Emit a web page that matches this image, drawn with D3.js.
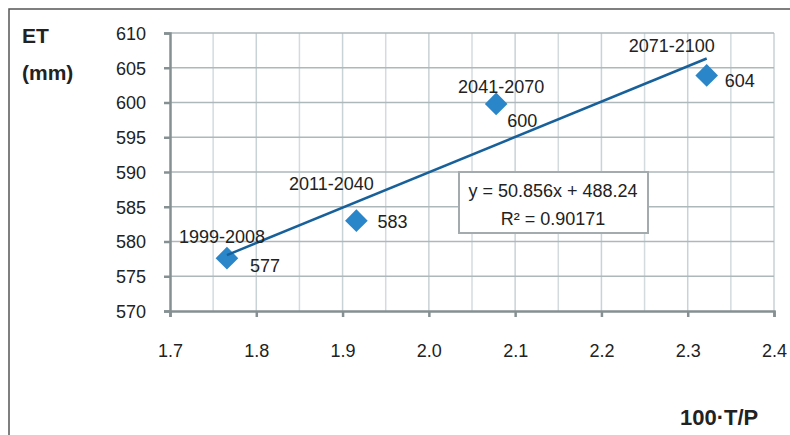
<!DOCTYPE html>
<html>
<head>
<meta charset="utf-8">
<script src="https://cdn.jsdelivr.net/npm/d3@7"></script>
<style>
  body { margin: 0; background: #fff; }
  text { font-family: "Liberation Sans", Arial, sans-serif; fill: #222; }
</style>
</head>
<body>
<div id="view"></div>
<script>
var width = 790, height = 435;

// データ
var periods = ["1999-2008", "2011-2040", "2041-2070", "2071-2100"];
var tp = [1.766, 1.916, 2.078, 2.322];      // 100·T/P
var et = [577.6, 583.0, 599.8, 603.9];      // ET (mm)
var etLabels = ["577", "583", "600", "604"];
var xTicks = [1.7, 1.8, 1.9, 2.0, 2.1, 2.2, 2.3, 2.4];
var yTicks = [570, 575, 580, 585, 590, 595, 600, 605, 610];
var slope = 50.856, intercept = 488.24, r2 = 0.90171;

var svg = d3.select("#view").append("svg")
  .attr("width", width)
  .attr("height", height);

// 外枠
svg.append("rect")
  .attr("x", 9).attr("y", 9)
  .attr("width", 800).attr("height", 440)
  .style("fill", "none").style("stroke", "#555").style("stroke-width", 1.5);

var x = d3.scaleLinear().domain([1.7, 2.4]).range([170, 774]);
var y = d3.scaleLinear().domain([570, 610]).range([311, 33]);

// 縦グリッド (0.05刻み)
var xGrid = d3.range(1.75, 2.40, 0.1);
svg.selectAll(".vminor").data(xGrid).enter().append("line")
  .attr("x1", function(d) { return x(d); }).attr("x2", function(d) { return x(d); })
  .attr("y1", y(610)).attr("y2", y(570))
  .style("stroke", "#d3dbdf").style("stroke-width", 1.5);
svg.selectAll(".vmajor").data(xTicks.slice(1)).enter().append("line")
  .attr("x1", function(d) { return x(d); }).attr("x2", function(d) { return x(d); })
  .attr("y1", y(610)).attr("y2", y(570))
  .style("stroke", "#c9d2d6").style("stroke-width", 1.5);

// 横グリッド
svg.selectAll(".hgrid").data(yTicks.slice(1)).enter().append("line")
  .attr("x1", x(1.7)).attr("x2", x(2.4))
  .attr("y1", function(d) { return y(d); }).attr("y2", function(d) { return y(d); })
  .style("stroke", "#aeb7ba").style("stroke-width", 1.5);

// 軸
var xAxis = svg.append("g").attr("transform", "translate(0," + y(570) + ")")
  .call(d3.axisBottom(x).tickValues(xTicks).tickSize(6).tickPadding(27)
    .tickFormat(d3.format(".1f")));
var yAxis = svg.append("g").attr("transform", "translate(" + x(1.7) + ",0)")
  .call(d3.axisLeft(y).tickValues(yTicks).tickSize(6).tickPadding(18)
    .tickFormat(d3.format("d")));
[xAxis, yAxis].forEach(function(g) {
  g.select(".domain").style("stroke", "#869093").style("stroke-width", 2.5);
  g.selectAll(".tick line").style("stroke", "#869093").style("stroke-width", 2.5);
  g.selectAll(".tick text").style("font-size", "18px").style("fill", "#222");
});
xAxis.selectAll(".tick line").attr("y1", 0);
yAxis.selectAll(".tick text").attr("dy", "0.35em");

// マーカー
var pts = tp.map(function(d, i) { return { x: d, y: et[i], p: periods[i], l: etLabels[i] }; });
svg.selectAll(".node").data(pts).enter().append("rect")
  .attr("class", "node")
  .attr("x", -8).attr("y", -8).attr("width", 16).attr("height", 16)
  .attr("transform", function(d) { return "translate(" + x(d.x) + "," + y(d.y) + ") rotate(45)"; })
  .style("fill", "#2a86c8");

// 近似直線
svg.append("line")
  .attr("x1", x(tp[0])).attr("y1", y(slope * tp[0] + intercept))
  .attr("x2", x(tp[3])).attr("y2", y(slope * tp[3] + intercept))
  .style("stroke", "#17609a").style("stroke-width", 2.5);

// ラベル
var periodOff = [[-5, -15], [-25, -31], [5, -11], [-35, -23]];
var valOff = [[23, 14], [21, 7], [11, 23], [18, 12]];
svg.selectAll(".plab").data(pts).enter().append("text")
  .attr("x", function(d, i) { return x(d.x) + periodOff[i][0]; })
  .attr("y", function(d, i) { return y(d.y) + periodOff[i][1]; })
  .attr("text-anchor", "middle")
  .style("font-size", "18px")
  .text(function(d) { return d.p; });
svg.selectAll(".vlab").data(pts).enter().append("text")
  .attr("x", function(d, i) { return x(d.x) + valOff[i][0]; })
  .attr("y", function(d, i) { return y(d.y) + valOff[i][1]; })
  .style("font-size", "18px")
  .text(function(d) { return d.l; });

// 式ボックス
svg.append("rect")
  .attr("x", 459).attr("y", 172).attr("width", 189).attr("height", 61)
  .style("fill", "#fff").style("stroke", "#a3abae").style("stroke-width", 2);
svg.append("text").attr("x", 553).attr("y", 197).attr("text-anchor", "middle")
  .style("font-size", "18px")
  .text("y = " + slope + "x + " + intercept.toFixed(2));
svg.append("text").attr("x", 553).attr("y", 225).attr("text-anchor", "middle")
  .style("font-size", "18px")
  .text("R² = " + r2);

// 軸タイトル
svg.append("text").attr("x", 22).attr("y", 43)
  .style("font-size", "21px").style("font-weight", "bold").text("ET");
svg.append("text").attr("x", 22).attr("y", 80)
  .style("font-size", "21px").style("font-weight", "bold").text("(mm)");
svg.append("text").attr("x", 680).attr("y", 425)
  .style("font-size", "22px").style("font-weight", "bold").text("100·T/P");
</script>
</body>
</html>
